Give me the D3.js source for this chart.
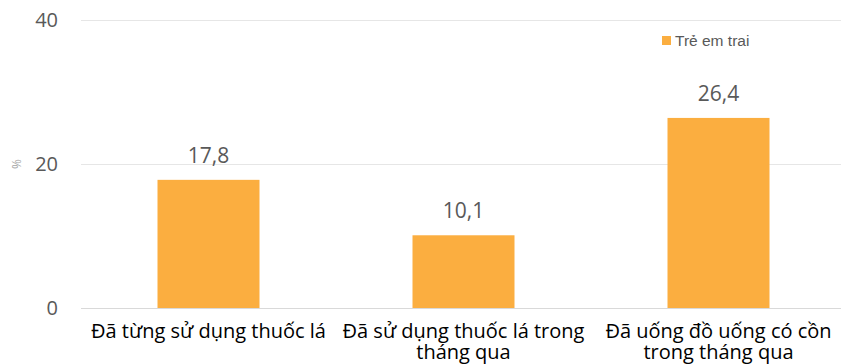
<!DOCTYPE html>
<html>
<head>
<meta charset="utf-8">
<script src="https://cdn.jsdelivr.net/npm/d3@7"></script>
<style>
  html, body { margin: 0; padding: 0; background: #fff; }
  svg { display: block; }
  .cat { font-family: "Liberation Sans Narrow", "Open Sans", sans-serif; }
</style>
</head>
<body>
<svg id="chart" width="841" height="364"></svg>
<script>
// Chart data
const categories = [
  ["Đã từng sử dụng thuốc lá"],
  ["Đã sử dụng thuốc lá trong", "tháng qua"],
  ["Đã uống đồ uống có cồn", "trong tháng qua"]
];
const seriesName = "Trẻ em trai";
const values = [17.8, 10.1, 26.4];
const yTicks = [0, 20, 40];

const svg = d3.select("#chart");
const margin = { left: 81, right: -5, top: 20, bottom: 56 };
const W = 841, H = 364;

const x = d3.scaleBand()
  .domain(d3.range(values.length))
  .range([margin.left, W - margin.right])
  .paddingInner(0.6)
  .paddingOuter(0.3);

const y = d3.scaleLinear()
  .domain([0, 40])
  .range([H - margin.bottom, margin.top]);

const fmt = v => d3.format(".1f")(v).replace(".", ",");

// horizontal gridlines
svg.append("g")
  .selectAll("line")
  .data(yTicks)
  .join("line")
  .attr("x1", margin.left)
  .attr("x2", W)
  .attr("y1", d => y(d) + 0.5)
  .attr("y2", d => y(d) + 0.5)
  .attr("stroke", d => d === 0 ? "#d9d9d9" : "#e6e6e6")
  .attr("stroke-width", 1);

// y tick labels
svg.append("g")
  .selectAll("text")
  .data(yTicks)
  .join("text")
  .attr("x", 58)
  .attr("y", d => y(d))
  .attr("dy", "0.35em")
  .attr("text-anchor", "end")
  .attr("font-family", "Open Sans, sans-serif")
  .attr("font-size", 20)
  .attr("fill", "#595959")
  .text(d => d);

// y axis title
svg.append("text")
  .attr("transform", `translate(21, ${y(20)}) rotate(-90)`)
  .attr("text-anchor", "middle")
  .attr("font-family", "Open Sans, sans-serif")
  .attr("font-size", 12)
  .attr("fill", "#a6a6a6")
  .text("%");

// bars
svg.append("g")
  .selectAll("rect")
  .data(values)
  .join("rect")
  .attr("x", (d, i) => x(i))
  .attr("width", x.bandwidth())
  .attr("y", d => y(d))
  .attr("height", d => y(0) - y(d))
  .attr("fill", "#fbae40");

// value labels
svg.append("g")
  .selectAll("text")
  .data(values)
  .join("text")
  .attr("x", (d, i) => x(i) + x.bandwidth() / 2)
  .attr("y", d => y(d) - 17)
  .attr("text-anchor", "middle")
  .attr("font-family", "Open Sans, sans-serif")
  .attr("font-size", 21)
  .attr("fill", "#595959")
  .text(d => fmt(d));

// category labels
const catG = svg.append("g")
  .selectAll("text")
  .data(categories)
  .join("text")
  .attr("class", "cat")
  .attr("x", (d, i) => x(i) + x.bandwidth() / 2)
  .attr("y", 338)
  .attr("text-anchor", "middle")
  .attr("font-size", 20)
  .attr("fill", "#000");
catG.selectAll("tspan")
  .data(d => d)
  .join("tspan")
  .attr("x", function () { return this.parentNode.getAttribute("x"); })
  .attr("dy", (d, i) => i === 0 ? 0 : 21)
  .text(d => d);

// legend
const lg = svg.append("g").attr("transform", "translate(662, 36)");
lg.append("rect").attr("width", 9).attr("height", 9).attr("fill", "#fbae40");
lg.append("text")
  .attr("x", 13)
  .attr("y", 9.5)
  .attr("font-family", "Liberation Sans, Arial, sans-serif")
  .attr("font-size", 15.5)
  .attr("fill", "#595959")
  .text(seriesName);
</script>
</body>
</html>
